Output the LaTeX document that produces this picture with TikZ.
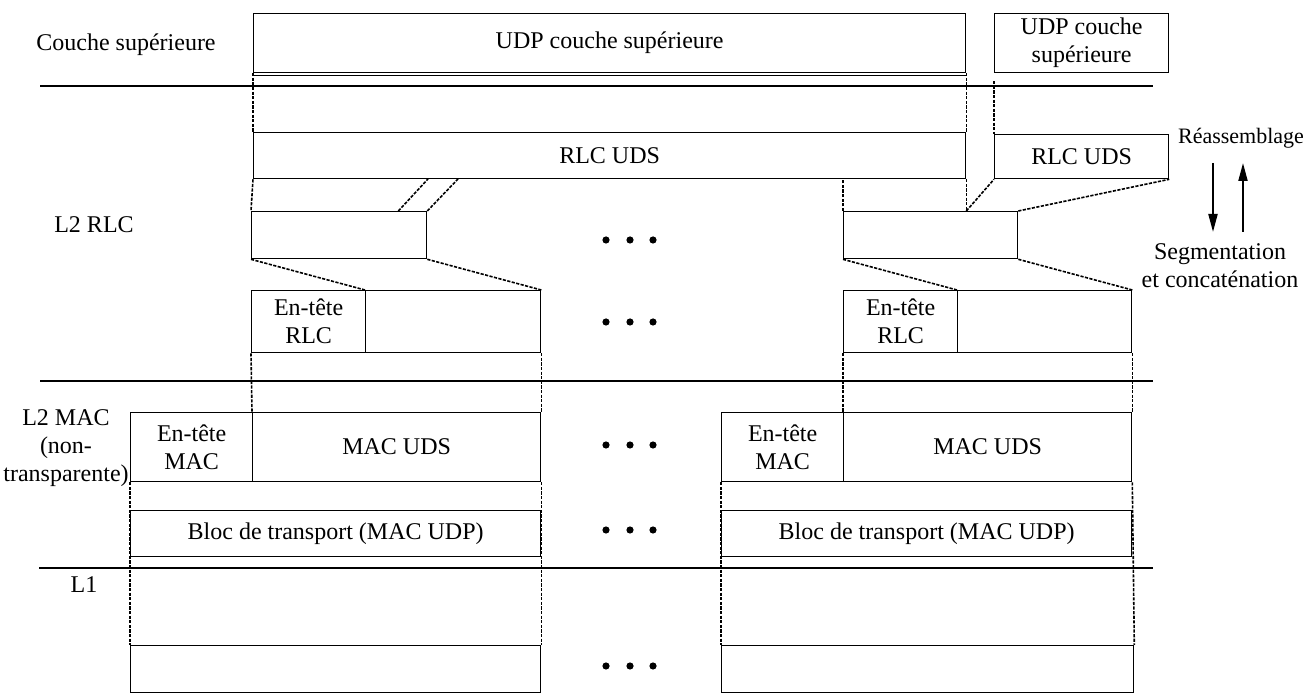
\documentclass[tikz,border=0pt]{standalone}
\usepackage{fontspec}
\setmainfont{Liberation Serif}
\usetikzlibrary{arrows.meta}
\tikzset{
  blk/.style={draw, line width=0.65pt, inner sep=0pt, anchor=north west, align=center},
  guide/.style={line width=0.8pt, dash pattern=on 1.6pt off 0.7pt},
  layer/.style={line width=1.2pt},
  arr/.style={line width=1pt, -{Triangle[length=9pt,width=4.5pt]}},
}
\begin{document}
\begin{tikzpicture}[x=0.5pt, y=-0.5pt, font=\fontsize{12}{14}\selectfont]
 \useasboundingbox (0,0) rectangle (1314,700);
%
 \coordinate (l1w) at (40,86);  \coordinate (l1e) at (1153,86);
 \coordinate (l2w) at (40,381); \coordinate (l2e) at (1153,381);
 \coordinate (l3w) at (39,568); \coordinate (l3e) at (1153,568);
 \draw[layer] (l1w) -- (l1e);
 \draw[layer] (l2w) -- (l2e);
 \draw[layer] (l3w) -- (l3e);
%
 \node (lhaut) at (126,45) {Couche supérieure};
 \node (lrlc) at (94,225) {L2 RLC};
 \node[align=center] (lmac) at (66,448) {L2 MAC\\(non-\\transparente)};
 \node (lphy) at (84,585) {L1};
%
 \node[blk, minimum width=356pt, minimum height=29.5pt] (udp) at (253,13) {UDP couche supérieure};
 \node[blk, minimum width=87pt, minimum height=29.5pt] (udp2) at (994,13) {UDP couche\\supérieure};
 \node[blk, minimum width=356pt, minimum height=23pt] (sdu) at (253,132) {RLC UDS};
 \node[blk, minimum width=87pt, minimum height=22pt] (sdu2) at (994,134) {RLC UDS};
 \draw[line width=0.65pt] ([yshift=-1pt]udp.south west) -- ([yshift=-1pt]udp.south east);
%
 \node[blk, minimum width=87.5pt, minimum height=23.5pt] (seg1) at (251,211) {};
 \node[blk, minimum width=87pt, minimum height=23.5pt] (seg2) at (843,211) {};
%
 \node[blk, minimum width=57pt, minimum height=31pt] (rh1) at (251,290) {En-tête\\RLC};
 \node[blk, minimum width=87.5pt, minimum height=31pt] (rp1) at (365,290) {};
 \node[blk, minimum width=57pt, minimum height=31pt] (rh2) at (843,290) {En-tête\\RLC};
 \node[blk, minimum width=87pt, minimum height=31pt] (rp2) at (957,290) {};
%
 \node[blk, minimum width=61pt, minimum height=34.5pt] (mh1) at (130,412) {En-tête\\MAC};
 \node[blk, minimum width=144pt, minimum height=34.5pt] (mu1) at (252,412) {MAC UDS};
 \node[blk, minimum width=61pt, minimum height=34.5pt] (mh2) at (721,412) {En-tête\\MAC};
 \node[blk, minimum width=144pt, minimum height=34.5pt] (mu2) at (843,412) {MAC UDS};
%
 \node[blk, minimum width=205pt, minimum height=23pt] (tb1) at (130,510) {Bloc de transport (MAC UDP)};
 \node[blk, minimum width=205pt, minimum height=23pt] (tb2) at (721,510) {Bloc de transport (MAC UDP)};
 \node[blk, minimum width=205pt, minimum height=23.5pt] (phy1) at (130,645) {};
 \node[blk, minimum width=206pt, minimum height=23.5pt] (phy2) at (721,645) {};
%
 \draw[guide] (udp.south west) -- (sdu.north west);
 \draw[guide] (udp.south east) -- (sdu.north east);
 \draw[guide] ([yshift=-4pt]udp2.south west) -- (sdu2.north west);
%
 \coordinate (cut1) at (428,179);
 \coordinate (cut2) at (458,179);
 \draw[guide] (sdu.south west) -- (seg1.north west);
 \draw[guide] ([xshift=-14.5pt]seg1.north east) -- (cut1);
 \draw[guide] (seg1.north east) -- (cut2);
 \draw[guide] (seg2.north west) -- (seg2.north west |- sdu.south);
 \draw[guide] (sdu.south east) -- (seg2.north west -| sdu.south east);
 \draw[guide] (seg2.north west -| sdu.south east) -- (sdu2.south west);
 \draw[guide] (seg2.north east) -- (sdu2.south east);
%
 \draw[guide] (seg1.south west) -- (rp1.north west);
 \draw[guide] (seg1.south east) -- (rp1.north east);
 \draw[guide] (seg2.south west) -- (rp2.north west);
 \draw[guide] (seg2.south east) -- (rp2.north east);
%
 \draw[guide] (rh1.south west) -- (mu1.north west);
 \draw[guide] (rp1.south east) -- (mu1.north east);
 \draw[guide] (rh2.south west) -- (mu2.north west);
 \draw[guide] (rp2.south east) -- (mu2.north east);
%
 \draw[guide] (mh1.south west) -- (phy1.north west);
 \draw[guide] (mu1.south east) -- (phy1.north east);
 \draw[guide] (mh2.south west) -- (phy2.north west);
 \draw[guide] (mu2.south east) -- (phy2.north east);
%
 \foreach \y in {240,322,445,530,666}
   \foreach \x in {606,630,653}
     \fill (\x,\y) circle (1.8pt);
%
 \node[font=\fontsize{11}{13}\selectfont] (reas) at (1241,138) {Réassemblage};
 \node[align=center] (segm) at (1220,266) {Segmentation\\et concaténation};
 \coordinate (da) at (1213,163); \coordinate (db) at (1213,232);
 \coordinate (ua) at (1243,232); \coordinate (ub) at (1243,163);
 \draw[arr] (da) -- (db);
 \draw[arr] (ua) -- (ub);
\end{tikzpicture}
\end{document}
